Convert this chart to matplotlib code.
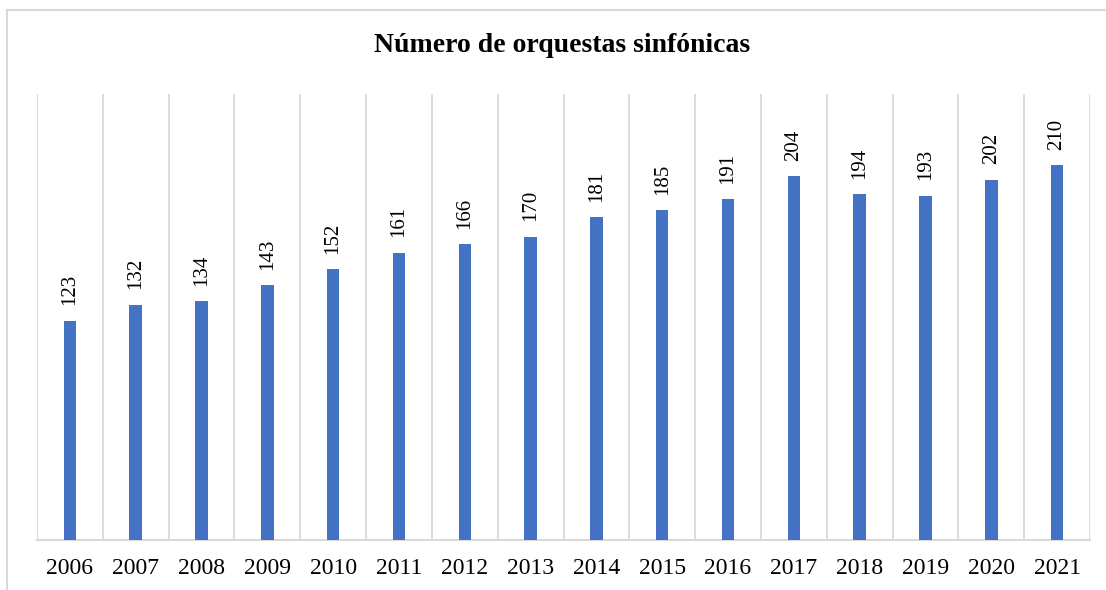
import matplotlib.pyplot as plt
from matplotlib.patches import Rectangle

# datos: numero de orquestas sinfonicas por año
anios = ['2006', '2007', '2008', '2009', '2010', '2011', '2012', '2013',
         '2014', '2015', '2016', '2017', '2018', '2019', '2020', '2021']
orquestas = [123, 132, 134, 143, 152, 161, 166, 170,
             181, 185, 191, 204, 194, 193, 202, 210]

plt.rcParams['font.family'] = ['Liberation Serif', 'DejaVu Serif']

fig = plt.figure(figsize=(11.06, 5.9), dpi=100)
ax = fig.add_axes([37 / 1106, 1 - 540 / 590, (1090 - 37) / 1106, (540 - 94) / 590])

x = range(len(anios))
ax.bar(x, orquestas, width=0.19, color='#4472C4', zorder=3)

for xi, v in zip(x, orquestas):
    ax.annotate(str(v), (xi, v), xytext=(0, 11), textcoords='offset points',
                rotation=90, ha='center', va='bottom', fontsize=15)

ax.set_xlim(-0.5, len(anios) - 0.5)
ax.set_ylim(0, 250)
ax.set_xticks(list(x))
ax.set_xticklabels(anios, fontsize=17)
ax.tick_params(axis='x', length=0, pad=13)
ax.set_yticks([])

# lineas verticales entre categorias
for b in range(len(anios) + 1):
    ax.axvline(b - 0.5, color='#D9D9D9', lw=1.3, zorder=1)

for s in ['top', 'left', 'right']:
    ax.spines[s].set_visible(False)
ax.spines['bottom'].set_color('#D9D9D9')
ax.spines['bottom'].set_linewidth(1.5)

fig.text(0.508, 1 - 46 / 590, 'Número de orquestas sinfónicas', ha='center',
         va='center', fontsize=20, fontweight='bold')

# marco del grafico (parcialmente recortado)
fig.patches.append(Rectangle((7 / 1106, -0.2), 1.2, 0.2 + 1 - 10 / 590,
                             transform=fig.transFigure, fill=False,
                             edgecolor='#D9D9D9', lw=1.5))

fig.savefig('out.png', dpi=100)
